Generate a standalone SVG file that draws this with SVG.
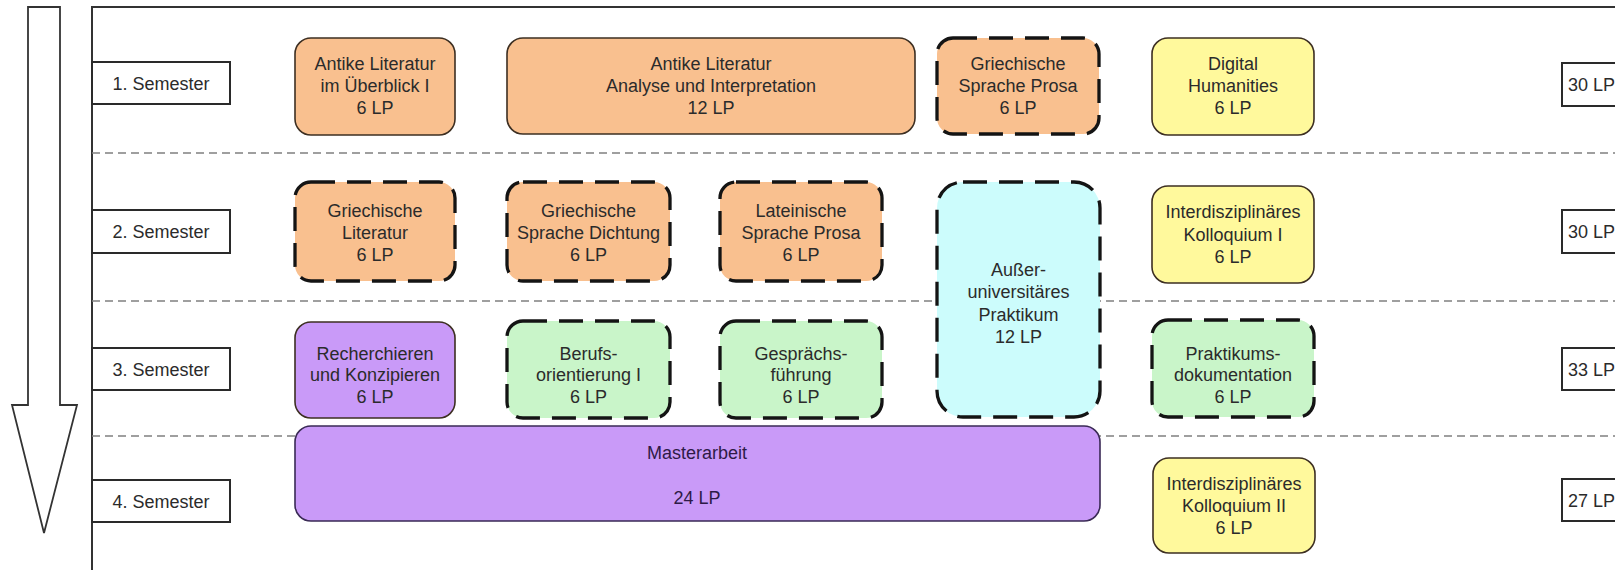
<svg xmlns="http://www.w3.org/2000/svg" width="1615" height="570" viewBox="0 0 1615 570">
<style>
text{font-family:"Liberation Sans",Arial,sans-serif;font-size:18px;fill:#2b2b2b;text-anchor:middle}
text.lp{text-anchor:start}
.sep{stroke:#808080;stroke-width:1.3;stroke-dasharray:8 5;fill:none}
.lbl{fill:#fff;stroke:#2a2a2a;stroke-width:2}
.solid{stroke:#3d2f22;stroke-width:1.6}
.dash{stroke:#141414;stroke-width:3.3;stroke-dasharray:24 12}
.or{fill:#F9C08F}.ye{fill:#FFF99C}.pu{fill:#C99AF8}.gr{fill:#C9F5C9}.cy{fill:#CCFCFC}
.pt{fill:#2e1a47}
</style>
<rect width="1615" height="570" fill="#fff"/>
<g id="timeline-arrow">
<path d="M28,7 H60 V405 H77 L44,533 L12,405 H28 Z" fill="#fff" stroke="#333" stroke-width="1.8"/>
</g>
<g id="frame">
<path d="M92,570 V7 H1615" fill="none" stroke="#333" stroke-width="2"/>
</g>
<g id="connectors">
<line class="sep" x1="92" y1="153" x2="1615" y2="153"/>
<line class="sep" x1="92" y1="301" x2="1615" y2="301"/>
<line class="sep" x1="92" y1="436" x2="1615" y2="436"/>
</g>
<g id="sem1"><rect class="lbl" x="92" y="62" width="138" height="42"/><text x="161" y="89.5">1. Semester</text></g>
<g id="sem2"><rect class="lbl" x="92" y="210" width="138" height="43"/><text x="161" y="238">2. Semester</text></g>
<g id="sem3"><rect class="lbl" x="92" y="348" width="138" height="42"/><text x="161" y="375.5">3. Semester</text></g>
<g id="sem4"><rect class="lbl" x="92" y="480" width="138" height="42"/><text x="161" y="507.5">4. Semester</text></g>
<g id="lp1"><rect class="lbl" x="1562" y="63" width="90" height="43"/><text class="lp" x="1568" y="91">30 LP</text></g>
<g id="lp2"><rect class="lbl" x="1562" y="210" width="90" height="43"/><text class="lp" x="1568" y="238">30 LP</text></g>
<g id="lp3"><rect class="lbl" x="1562" y="348" width="90" height="42"/><text class="lp" x="1568" y="375.5">33 LP</text></g>
<g id="lp4"><rect class="lbl" x="1562" y="479" width="90" height="42"/><text class="lp" x="1568" y="506.5">27 LP</text></g>
<g id="antike-ueberblick"><rect class="or solid" x="295" y="38" width="160" height="97" rx="16"/><text x="375" y="69.5">Antike Literatur</text><text x="375" y="91.5">im Überblick I</text><text x="375" y="113.5">6 LP</text></g>
<g id="antike-analyse"><rect class="or solid" x="507" y="38" width="408" height="96" rx="16"/><text x="711" y="69.5">Antike Literatur</text><text x="711" y="91.5">Analyse und Interpretation</text><text x="711" y="113.5">12 LP</text></g>
<g id="gr-sprache-prosa"><rect class="or dash" x="937" y="38" width="162" height="96" rx="16"/><text x="1018" y="69.5">Griechische</text><text x="1018" y="91.5">Sprache Prosa</text><text x="1018" y="113.5">6 LP</text></g>
<g id="digital-humanities"><rect class="ye solid" x="1152" y="38" width="162" height="97" rx="16"/><text x="1233" y="69.5">Digital</text><text x="1233" y="91.5">Humanities</text><text x="1233" y="113.5">6 LP</text></g>
<g id="gr-literatur"><rect class="or dash" x="295" y="182" width="160" height="99" rx="16"/><text x="375" y="217">Griechische</text><text x="375" y="239">Literatur</text><text x="375" y="261">6 LP</text></g>
<g id="gr-sprache-dichtung"><rect class="or dash" x="507" y="182" width="163" height="99" rx="16"/><text x="588.5" y="217">Griechische</text><text x="588.5" y="239">Sprache Dichtung</text><text x="588.5" y="261">6 LP</text></g>
<g id="lat-sprache-prosa"><rect class="or dash" x="720" y="182" width="162" height="99" rx="16"/><text x="801" y="217">Lateinische</text><text x="801" y="239">Sprache Prosa</text><text x="801" y="261">6 LP</text></g>
<g id="praktikum"><rect class="cy dash" x="937" y="182" width="163" height="235" rx="26"/><text x="1018.5" y="275.5">Außer-</text><text x="1018.5" y="298">universitäres</text><text x="1018.5" y="320.5">Praktikum</text><text x="1018.5" y="343">12 LP</text></g>
<g id="kolloquium1"><rect class="ye solid" x="1152" y="186" width="162" height="97" rx="16"/><text x="1233" y="218">Interdisziplinäres</text><text x="1233" y="240.5">Kolloquium I</text><text x="1233" y="263">6 LP</text></g>
<g id="recherchieren"><rect class="pu solid" x="295" y="322" width="160" height="96" rx="16"/><text x="375" y="359.5">Recherchieren</text><text x="375" y="381">und Konzipieren</text><text x="375" y="402.5">6 LP</text></g>
<g id="berufsorientierung"><rect class="gr dash" x="507" y="321" width="163" height="97" rx="16"/><text x="588.5" y="359.5">Berufs-</text><text x="588.5" y="381">orientierung I</text><text x="588.5" y="402.5">6 LP</text></g>
<g id="gespraechsfuehrung"><rect class="gr dash" x="720" y="321" width="162" height="97" rx="16"/><text x="801" y="359.5">Gesprächs-</text><text x="801" y="381">führung</text><text x="801" y="402.5">6 LP</text></g>
<g id="praktikumsdoku"><rect class="gr dash" x="1152" y="320" width="162" height="97" rx="16"/><text x="1233" y="359.5">Praktikums-</text><text x="1233" y="381">dokumentation</text><text x="1233" y="402.5">6 LP</text></g>
<g id="masterarbeit"><rect class="pu solid" x="295" y="426" width="805" height="95" rx="16" style="stroke:#3a2a55"/><text class="pt" x="697" y="458.5">Masterarbeit</text><text class="pt" x="697" y="503.5">24 LP</text></g>
<g id="kolloquium2"><rect class="ye solid" x="1153" y="458" width="162" height="95" rx="16"/><text x="1234" y="490">Interdisziplinäres</text><text x="1234" y="512">Kolloquium II</text><text x="1234" y="534">6 LP</text></g>
</svg>
